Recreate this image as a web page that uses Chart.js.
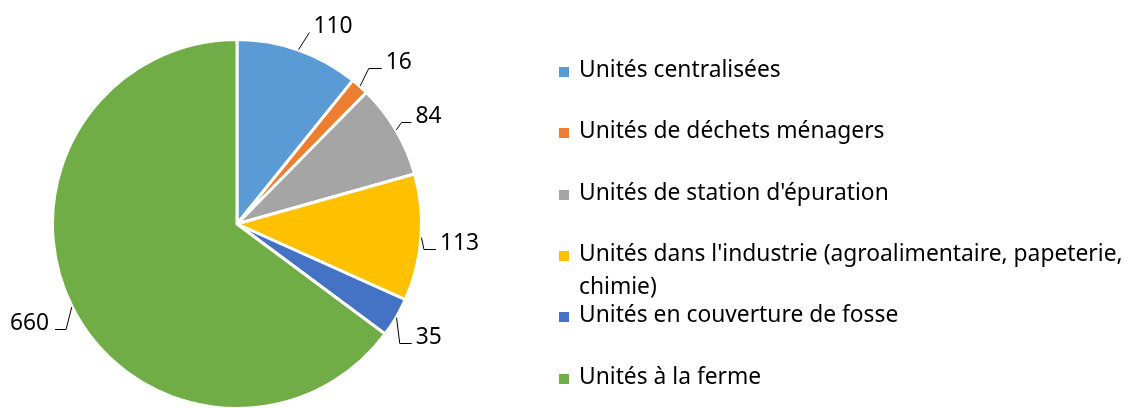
<!DOCTYPE html>
<html lang="fr">
<head>
<meta charset="utf-8">
<title>Unités de méthanisation</title>
<script src="https://cdn.jsdelivr.net/npm/chart.js@4.4.1/dist/chart.umd.min.js"></script>
<style>
  html, body { margin: 0; padding: 0; background: #fff; }
  #wrap { width: 1137px; height: 408px; }
</style>
</head>
<body>
<div id="wrap"><canvas id="pie" width="1137" height="408"></canvas></div>
<script>
const categories = [
  'Unités centralisées',
  'Unités de déchets ménagers',
  "Unités de station d'épuration",
  "Unités dans l'industrie (agroalimentaire, papeterie, chimie)",
  'Unités en couverture de fosse',
  'Unités à la ferme'
];
const counts = [110, 16, 84, 113, 35, 660];
const colours = ['#5B9BD5', '#ED7D31', '#A5A5A5', '#FFC000', '#4472C4', '#70AD47'];

// placement of the value labels, relative to the middle of each slice edge
const labelOffsets = [[35, -26], [40, -26], [34, -16], [40, 4], [34, 19], [-44, 16]];
const hookLengths = [0, 13, 10, 12, 12, 11];

const FONT = '22.8px "Noto Sans"';
const TEXT = '#000000';

const valueLabels = {
  id: 'valueLabels',
  afterDatasetsDraw(chart) {
    const ctx = chart.ctx;
    const meta = chart.getDatasetMeta(0);
    const bw = chart.data.datasets[0].borderWidth;
    ctx.save();
    ctx.font = FONT;
    ctx.fillStyle = TEXT;
    ctx.strokeStyle = '#000';
    ctx.lineWidth = 1;
    meta.data.forEach((arc, i) => {
      const p = arc.getProps(['x', 'y', 'startAngle', 'endAngle', 'outerRadius'], true);
      const mid = (p.startAngle + p.endAngle) / 2;
      const r = p.outerRadius - bw / 2;
      const ex = p.x + Math.cos(mid) * r;
      const ey = p.y + Math.sin(mid) * r;
      const sx = p.x + Math.cos(mid) * (r + 2);
      const sy = p.y + Math.sin(mid) * (r + 2);

      const text = String(counts[i]);
      const w = ctx.measureText(text).width;
      const cx = ex + labelOffsets[i][0];
      const cy = ey + labelOffsets[i][1];
      const right = Math.cos(mid) >= 0;
      const endX = right ? cx - w / 2 - 4 : cx + w / 2 + 6;
      const lineY = Math.round(cy + 7) + 0.5;
      const elbowX = right ? endX - hookLengths[i] : endX + hookLengths[i];

      ctx.beginPath();
      ctx.moveTo(sx, sy);
      ctx.lineTo(elbowX, lineY);
      ctx.lineTo(endX, lineY);
      ctx.stroke();

      ctx.textAlign = 'center';
      ctx.textBaseline = 'alphabetic';
      ctx.fillText(text, cx, cy + 8);
    });
    ctx.restore();
  }
};

function wrapText(ctx, text, maxWidth) {
  const words = text.split(' ');
  const lines = [];
  let line = '';
  words.forEach(word => {
    const test = line ? line + ' ' + word : word;
    if (line && ctx.measureText(test).width > maxWidth) {
      lines.push(line);
      line = word;
    } else {
      line = test;
    }
  });
  lines.push(line);
  return lines;
}

// legend on the right, one row per category, long names wrap
const sideLegend = {
  id: 'sideLegend',
  afterDraw(chart) {
    const ctx = chart.ctx;
    const boxX = 559, textX = 579, firstBase = 77, step = 61.3, lineGap = 33;
    ctx.save();
    ctx.font = FONT;
    ctx.textAlign = 'left';
    ctx.textBaseline = 'alphabetic';
    categories.forEach((name, i) => {
      const base = Math.round(firstBase + step * i);
      ctx.fillStyle = colours[i];
      ctx.fillRect(boxX, base - 10, 10, 10);
      ctx.fillStyle = TEXT;
      wrapText(ctx, name, chart.width - textX - 4).forEach((line, k) => {
        ctx.fillText(line, textX, base + k * lineGap);
      });
    });
    ctx.restore();
  }
};

new Chart(document.getElementById('pie'), {
  type: 'pie',
  data: {
    labels: categories,
    datasets: [{
      data: counts,
      backgroundColor: colours,
      borderColor: '#ffffff',
      borderWidth: 3,
      radius: 184.5,
      clip: false
    }]
  },
  options: {
    responsive: false,
    animation: false,
    layout: { padding: { left: 54, right: 717, top: 41, bottom: 1 } },
    plugins: {
      legend: { display: false },
      tooltip: { enabled: false }
    }
  },
  plugins: [valueLabels, sideLegend]
});
</script>
</body>
</html>
